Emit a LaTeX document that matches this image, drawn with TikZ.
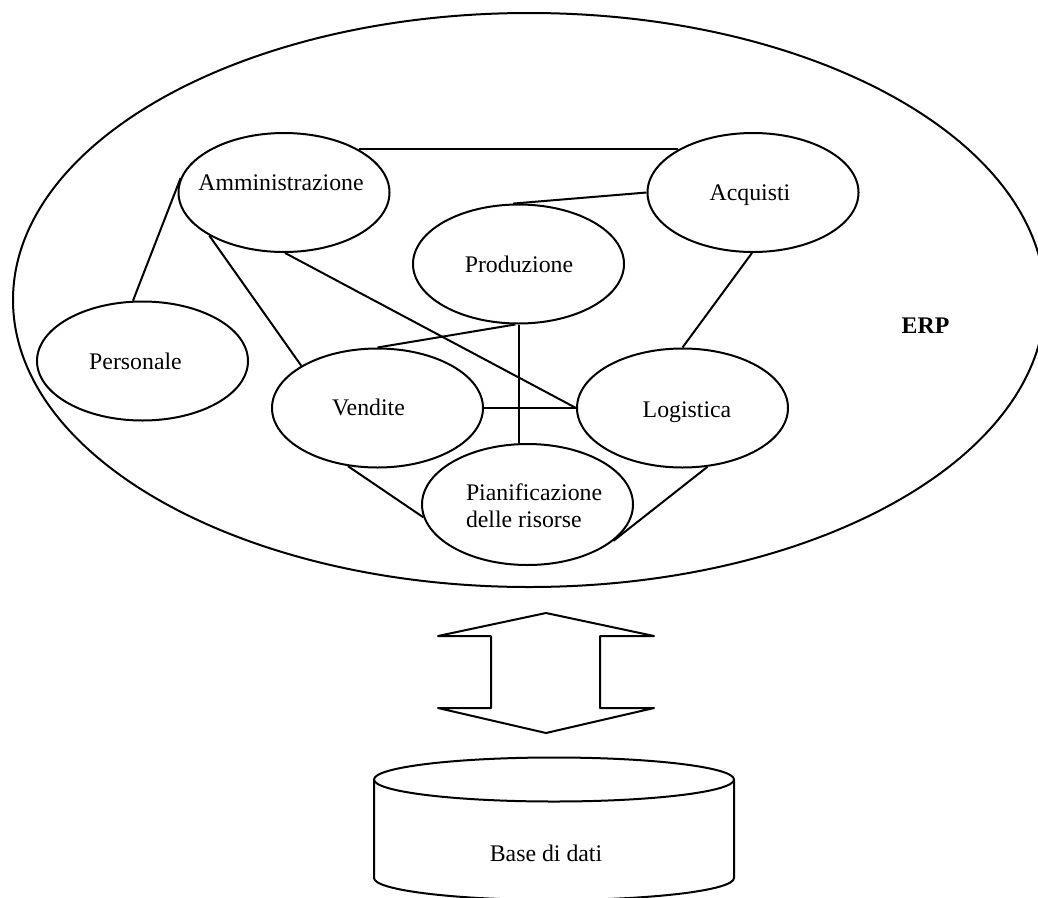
\documentclass[tikz,border=0pt]{standalone}
\usepackage{fontspec}
\setmainfont{Liberation Serif}
\usetikzlibrary{shapes.geometric}
\begin{document}
\begin{tikzpicture}[x=1pt,y=-1pt,
  line width=2pt,
  module/.style={draw, ellipse, inner sep=0pt, minimum width=211pt, minimum height=119pt},
  txt/.style={font=\fontsize{23.8}{27.5}\selectfont, inner sep=0pt, anchor=base},
  link/.style={draw}]
\useasboundingbox (0,0) rectangle (1038,897);

% ERP system boundary
\node[draw, ellipse, inner sep=0pt, minimum width=1032pt, minimum height=574pt] (erp) at (529,300) {};
\node[txt, font=\fontsize{23.8}{27.5}\selectfont\bfseries] (erptxt) at (925.5,333) {ERP};

% modules
\node[module] (amm)  at (284,192.5) {};
\node[module] (acq)  at (753,192.5) {};
\node[module] (prod) at (518.5,264) {};
\node[module] (pers) at (142.5,361) {};
\node[module] (vend) at (377.5,408) {};
\node[module] (log)  at (682.5,408) {};
\node[module, minimum height=121pt] (plan) at (527.5,504.5) {};

\node[txt] (ammtxt)  at (281,190)   {Amministrazione};
\node[txt] (acqtxt)  at (750,200)   {Acquisti};
\node[txt] (prodtxt) at (519,272.5) {Produzione};
\node[txt] (perstxt) at (135.5,369) {Personale};
\node[txt] (vendtxt) at (368.5,415) {Vendite};
\node[txt] (logtxt)  at (687,417)   {Logistica};
% the base anchor of a two-line node sits on its last line
\node[txt, anchor=base west, align=left] (plantxt) at (465,527.5) {Pianificazione\\delle risorse};

% links between modules
\draw[link] (amm.30) -- (acq.150);
\draw[link] (acq.180) -- (prod.95);
\draw[link] (amm.172) -- (pers.99);
\draw[link] (amm.210) -- (vend.151);
\draw[link] (amm.271) -- (log.west);
\draw[link] (prod.267) -- (vend.90);
\draw[link] (prod.south) -- (prod.south |- plan.north);
\draw[link] (vend.east) -- (log.west);
\draw[link] (acq.269) -- (log.north);
\draw[link] (vend.243) -- (plan.187);
\draw[link] (log.293) -- (plan.337);

% two-way block arrow
\draw[line join=round] (546,613) -- (654,636) -- (600,636) -- (600,708) -- (654,708)
  -- (546,733) -- (438,708) -- (491,708) -- (491,636) -- (438,636) -- cycle;

% database cylinder
\draw (554,779.5) ellipse [x radius=180, y radius=22];
\draw (374,779.5) -- (374,878)
  .. controls (374,890.15) and (454.6,900) .. (554,900)
  .. controls (653.4,900) and (734,890.15) .. (734,878) -- (734,779.5);
\node[txt] (db) at (546,861) {Base di dati};
\end{tikzpicture}
\end{document}
